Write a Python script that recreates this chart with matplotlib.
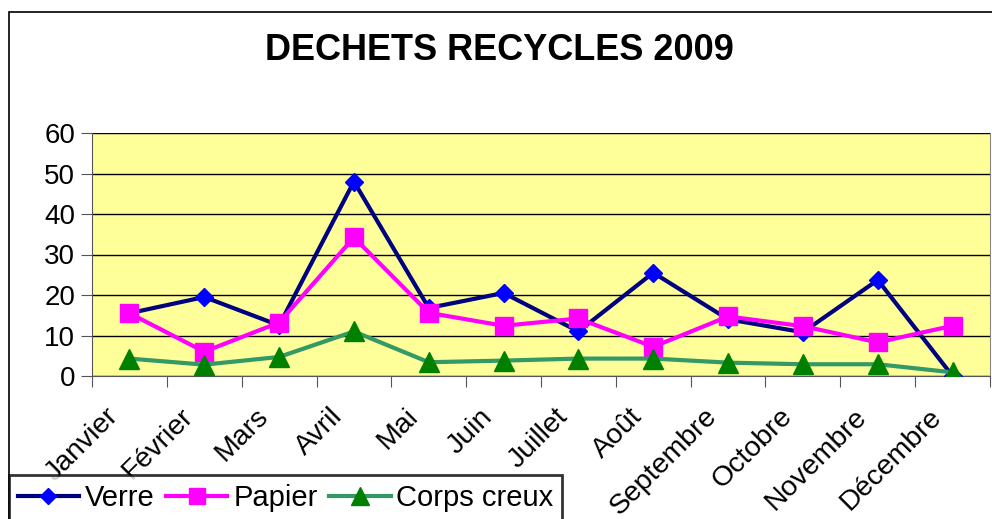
import matplotlib.pyplot as plt
import matplotlib.transforms as mtransforms
from matplotlib.patches import Rectangle
import numpy as np

plt.rcParams['font.family'] = ['Liberation Sans', 'DejaVu Sans']

mois = ['Janvier', 'Février', 'Mars', 'Avril', 'Mai', 'Juin', 'Juillet',
        'Août', 'Septembre', 'Octobre', 'Novembre', 'Décembre']
verre = [15.5, 19.5, 12.5, 48, 16.8, 20.5, 11, 25.5, 14, 10.8, 23.7, 0]
papier = [15.5, 6, 13.2, 34.2, 15.6, 12.4, 14.2, 7.2, 14.7, 12.3, 8.3, 12.4]
corps_creux = [4.3, 2.8, 4.7, 11, 3.4, 3.8, 4.3, 4.3, 3.3, 2.9, 2.9, 0.9]

fig = plt.figure(figsize=(9.92, 5.19), dpi=100)
ax = fig.add_axes([92/992, 1-376/519, 898/992, 243/519])
ax.set_facecolor('#FFFF99')

x = np.arange(len(mois))
l1, = ax.plot(x, verre, color='#000080', lw=3, marker='D', ms=9,
              mfc='#0000FF', mec='#0000FF', label='Verre', zorder=4)
l2, = ax.plot(x, papier, color='#FF00FF', lw=3, marker='s', ms=13,
              mfc='#FF00FF', mec='#FF00FF', label='Papier', zorder=5)
l3, = ax.plot(x, corps_creux, color='#339966', lw=3, marker='^', ms=15,
              mfc='#008000', mec='#008000', label='Corps creux', zorder=6)

ax.set_xlim(-0.5, len(mois) - 0.5)
ax.set_ylim(0, 60)
ax.set_yticks(range(0, 61, 10))
ax.yaxis.grid(True, color='black', lw=1)
ax.set_axisbelow(True)

# ticks between categories, labels at the centres
ax.set_xticks(np.arange(-0.5, len(mois), 1))
ax.set_xticklabels([])
ax.set_xticks(x, minor=True)
ax.set_xticklabels(mois, minor=True, rotation=45, ha='right',
                   rotation_mode='anchor', fontsize=20.5)
ax.tick_params(axis='x', which='minor', length=0, pad=14)
ax.tick_params(axis='x', which='major', length=8, color='#555555')
ax.tick_params(axis='y', length=8, labelsize=20, color='#555555', pad=4)

shift = mtransforms.ScaledTranslation(-0.24, -0.08, fig.dpi_scale_trans)
for lab in ax.get_xticklabels(minor=True):
    lab.set_transform(lab.get_transform() + shift)

ax.spines['top'].set_visible(False)
ax.spines['left'].set_color('#555555')
ax.spines['bottom'].set_color('#555555')
ax.spines['right'].set_color('#888888')

fig.text(499/992, 1-50/519, 'DECHETS RECYCLES 2009', fontsize=26,
         fontweight='bold', ha='center', va='center')

# chart frame
fig.patches.append(Rectangle((9/992, -0.1), 1.2, 1-12/519+0.1,
                             transform=fig.transFigure, fill=False,
                             edgecolor='black', lw=1.2))

leg = fig.legend(handles=[l1, l2, l3], loc='upper left', ncol=3,
                 bbox_to_anchor=(9/992, 1-475/519), fontsize=21,
                 frameon=True, fancybox=False, edgecolor='black',
                 handlelength=2.1, handletextpad=0.2, columnspacing=0.4,
                 borderpad=0.3, borderaxespad=0)
leg.get_frame().set_linewidth(2)
for h in leg.legend_handles:
    h.set_markersize(h.get_markersize() * 0.85)

fig.savefig('out.png', dpi=100)
